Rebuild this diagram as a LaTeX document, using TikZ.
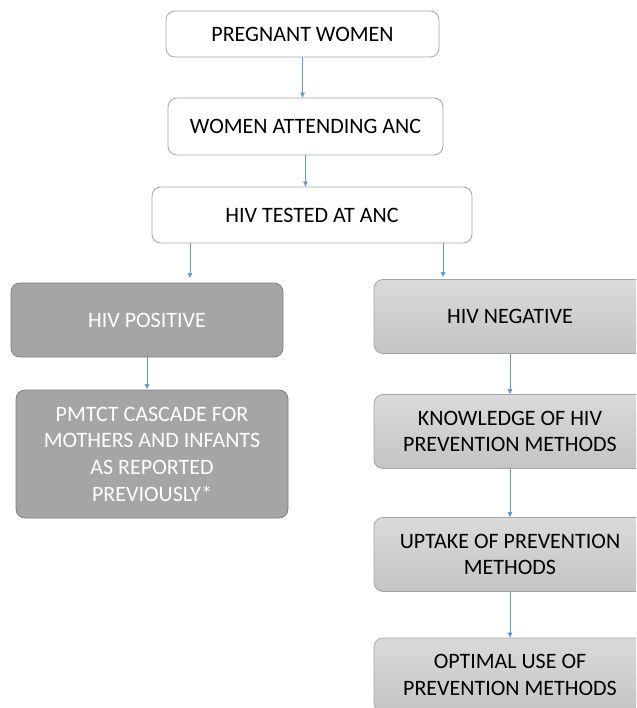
\documentclass[tikz,border=0pt]{standalone}
\usepackage{fontspec}
\setmainfont{Carlito}
\usetikzlibrary{arrows.meta}
\definecolor{arrowblue}{HTML}{5B9BD5}
\definecolor{posfill}{HTML}{A5A5A5}
\definecolor{posline}{HTML}{7F7F7F}
\definecolor{negtop}{HTML}{DADADA}
\definecolor{negbot}{HTML}{C4C4C4}
\definecolor{negline}{HTML}{A6A6A6}
\definecolor{wline}{HTML}{A6A6A6}
\tikzset{
  box/.style={rounded corners=9pt, align=center, inner sep=0pt,
    font=\fontsize{22}{26.7}\selectfont},
  whitebox/.style={box, draw=wline, line width=0.8pt, fill=white, text=black},
  posbox/.style={box, draw=posline, line width=0.8pt, fill=posfill, text=white},
  negbox/.style={box, draw=negline, line width=0.8pt, top color=negtop, bottom color=negbot, text=black},
  arr/.style={draw=arrowblue, line width=0.7pt, -{Triangle[length=5pt,width=4.5pt]}, fill=arrowblue}
}
\begin{document}
\begin{tikzpicture}[x=1pt,y=-1pt]
\useasboundingbox (0,0) rectangle (636,708);
\begin{scope}
\clip (0,0) rectangle (636,708);
\node[whitebox, minimum width=273pt, minimum height=46pt] (preg) at (302.5,34) {PREGNANT WOMEN};
\node[whitebox, minimum width=275pt, minimum height=57pt] (anc) at (305.5,126.5) {WOMEN ATTENDING ANC};
\node[whitebox, minimum width=320pt, minimum height=56pt] (tested) at (312,215) {HIV TESTED AT ANC};
\node[posbox, minimum width=272pt, minimum height=74pt] (pos) at (147,320) {HIV POSITIVE};
\node[posbox, minimum width=272pt, minimum height=128pt] (pmtct) at (152,454) {PMTCT CASCADE FOR\\MOTHERS AND INFANTS\\AS REPORTED\\PREVIOUSLY*};
\node[negbox, minimum width=272pt, minimum height=74pt] (neg) at (510,316.5) {HIV NEGATIVE};
\node[negbox, minimum width=272pt, minimum height=74pt] (know) at (510,431.5) {KNOWLEDGE OF HIV\\PREVENTION METHODS};
\node[negbox, minimum width=272pt, minimum height=74pt] (uptake) at (510,554.5) {UPTAKE OF PREVENTION\\METHODS};
\node[negbox, minimum width=272pt, minimum height=74pt] (opt) at (510,675) {OPTIMAL USE OF\\PREVENTION METHODS};
\end{scope}
\draw[arr] (preg.south) -- (anc.north -| preg.south);
\draw[arr] (anc.south) -- (tested.north -| anc.south);
\draw[arr] (tested.south -| 190,0) -- (190,278);
\draw[arr] (tested.south -| 443,0) -- (443,277);
\draw[arr] (pos.south) -- (pos.south |- 0,389);
\draw[arr] (neg.south) -- (know.north);
\draw[arr] (know.south) -- (uptake.north);
\draw[arr] (uptake.south) -- (opt.north);
\end{tikzpicture}
\end{document}
